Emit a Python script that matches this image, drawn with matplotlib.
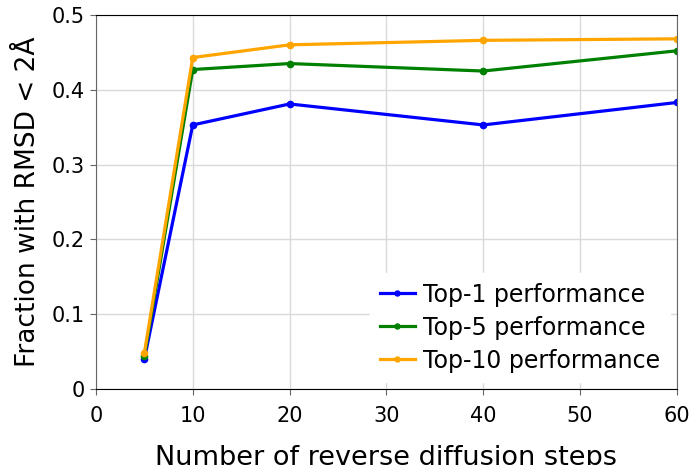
import matplotlib
matplotlib.use('Agg')
import matplotlib.pyplot as plt

# data
steps = [5, 10, 20, 40, 60]
top1 = [0.040, 0.353, 0.381, 0.353, 0.383]
top5 = [0.044, 0.427, 0.435, 0.425, 0.452]
top10 = [0.048, 0.443, 0.460, 0.466, 0.468]

fig = plt.figure(figsize=(6.9, 4.65), dpi=100)
ax = fig.add_axes([0.139, 0.163, 0.842, 0.805])

ax.plot(steps, top1, color='blue', marker='o', markersize=4.5, linewidth=2.3, label='Top-1 performance')
ax.plot(steps, top5, color='green', marker='o', markersize=4.5, linewidth=2.3, label='Top-5 performance')
ax.plot(steps, top10, color='orange', marker='o', markersize=4.5, linewidth=2.3, label='Top-10 performance')

ax.set_xlim(0, 60)
ax.set_ylim(0, 0.5)
ax.set_xticks([0, 10, 20, 30, 40, 50, 60])
ax.set_yticks([0, 0.1, 0.2, 0.3, 0.4, 0.5])
ax.set_yticklabels(['0', '0.1', '0.2', '0.3', '0.4', '0.5'])
ax.tick_params(labelsize=15, color='0.4', length=4, pad=4)
ax.tick_params(axis='x', pad=8)
ax.grid(True, color='0.85', linewidth=1)
ax.set_axisbelow(True)

for s in ['left', 'right']:
    ax.spines[s].set_color('0.4')
for s in ['top', 'bottom']:
    ax.spines[s].set_color('black')

ax.set_xlabel('Number of reverse diffusion steps', fontsize=19.5, labelpad=14)
ax.set_ylabel('Fraction with RMSD < 2Å', fontsize=19, labelpad=8)

leg = ax.legend(loc='lower right', fontsize=17, frameon=True, framealpha=1,
                edgecolor='white', fancybox=False, handlelength=1.5,
                handletextpad=0.35, labelspacing=0.38, borderaxespad=0.3,
                markerscale=0.8)

fig.savefig('out.png', dpi=100)
